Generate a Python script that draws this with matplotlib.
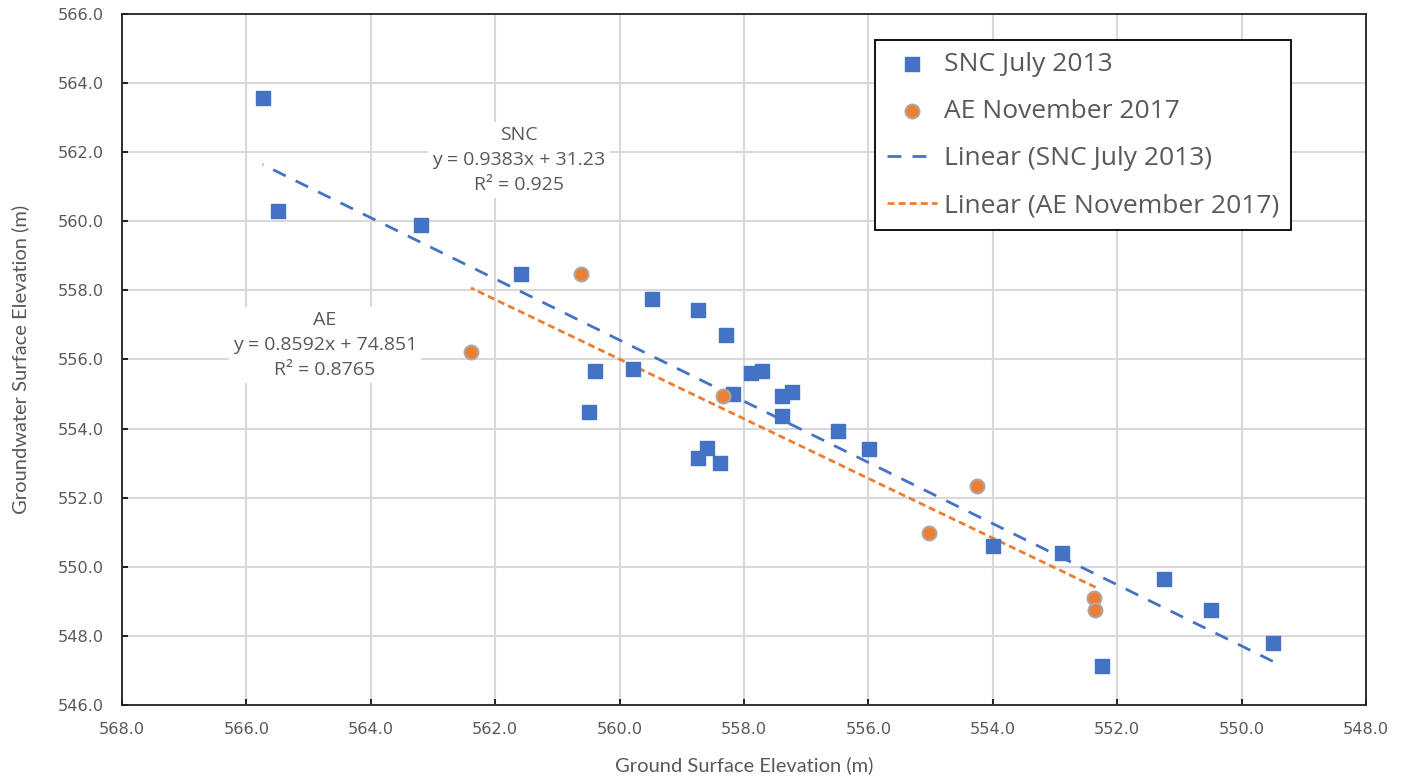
import matplotlib.pyplot as plt
import numpy as np

# SNC July 2013 survey: ground surface vs groundwater elevation (m)
snc_ground = [565.74, 565.49, 563.20, 561.59, 559.48, 558.74, 558.29, 560.40, 560.49,
              559.79, 557.89, 557.71, 558.18, 557.39, 557.23, 557.39, 556.49, 555.99,
              558.74, 558.60, 558.39, 553.99, 552.89, 552.24, 551.25, 550.50, 549.50]
snc_water = [563.57, 560.31, 559.88, 558.46, 557.76, 557.42, 556.70, 555.68, 554.47,
             555.73, 555.62, 555.68, 554.99, 554.93, 555.05, 554.35, 553.92, 553.40,
             553.15, 553.44, 553.01, 550.59, 550.41, 547.12, 549.65, 548.76, 547.80]

# AE November 2017 survey
ae_ground = [562.39, 560.62, 558.34, 554.25, 555.03, 552.37, 552.35]
ae_water = [556.22, 558.46, 554.95, 552.33, 550.98, 549.10, 548.74]

x_ticks = np.arange(568, 547, -2)
y_ticks = np.arange(546, 567, 2)

blue = '#4472C4'
orange = '#ED7D31'
grey = '#595959'

fig = plt.figure(figsize=(14.06, 7.8), dpi=100)
ax = fig.add_axes([0.0868, 0.0962, 0.8848, 0.8859])

ax.scatter(snc_ground, snc_water, marker='s', s=95, color=blue, zorder=3,
           label='SNC July 2013')
ax.scatter(ae_ground, ae_water, marker='o', s=100, color=orange, edgecolors='#B0A8A0',
           linewidths=1.5, zorder=4, label='AE November 2017')

# linear trendlines over each data range
k1, b1 = np.polyfit(snc_ground, snc_water, 1)
xs1 = np.array([min(snc_ground), max(snc_ground)])
ax.plot(xs1, k1 * xs1 + b1, color=blue, lw=2, dashes=(5, 4), zorder=2,
        label='Linear (SNC July 2013)')
k2, b2 = np.polyfit(ae_ground, ae_water, 1)
xs2 = np.array([min(ae_ground), max(ae_ground)])
ax.plot(xs2, k2 * xs2 + b2, color=orange, lw=2, dashes=(2.5, 1.5), zorder=2,
        label='Linear (AE November 2017)')

ax.set_xlim(568, 548)
ax.set_ylim(546, 566)
ax.set_xticks(x_ticks)
ax.set_yticks(y_ticks)
ax.set_xticklabels([f'{v:.1f}' for v in x_ticks])
ax.set_yticklabels([f'{v:.1f}' for v in y_ticks])
ax.tick_params(direction='in', length=4, width=1.2, color='black',
               labelsize=11.6, labelcolor=grey)
ax.tick_params(axis='x', pad=12)
ax.tick_params(axis='y', pad=13)
ax.grid(True, color='#D9D9D9', lw=1.5)
ax.set_axisbelow(True)
for s in ax.spines.values():
    s.set_color('#222222')
    s.set_linewidth(1.3)

ax.set_xlabel('Ground Surface Elevation (m)', fontsize=14.5, color=grey,
              family='Lato', labelpad=14)
ax.set_ylabel('Groundwater Surface Elevation (m)', fontsize=14.5, color=grey,
              family='Lato', labelpad=21)

box = dict(facecolor='white', edgecolor='none', pad=3)
ax.text(0.319, 0.789, 'SNC\ny = 0.9383x + 31.23\nR² = 0.925', transform=ax.transAxes,
        ha='center', va='center', fontsize=14, color=grey, family='Open Sans',
        linespacing=1.5, bbox=box, zorder=5)
ax.text(0.163, 0.521, 'AE\ny = 0.8592x + 74.851\nR² = 0.8765', transform=ax.transAxes,
        ha='center', va='center', fontsize=14, color=grey, family='Open Sans',
        linespacing=1.5, bbox=box, zorder=5)

leg = ax.legend(loc='upper right', bbox_to_anchor=(0.9397, 0.962), borderaxespad=0,
                frameon=True, fancybox=False, edgecolor='black', framealpha=1,
                prop={'family': 'Open Sans', 'size': 19}, labelspacing=0.84,
                handlelength=1.9, handletextpad=0.25, borderpad=0.45)
leg.get_frame().set_linewidth(1.3)
for t in leg.get_texts():
    t.set_color(grey)

fig.savefig('out.png', dpi=100)
